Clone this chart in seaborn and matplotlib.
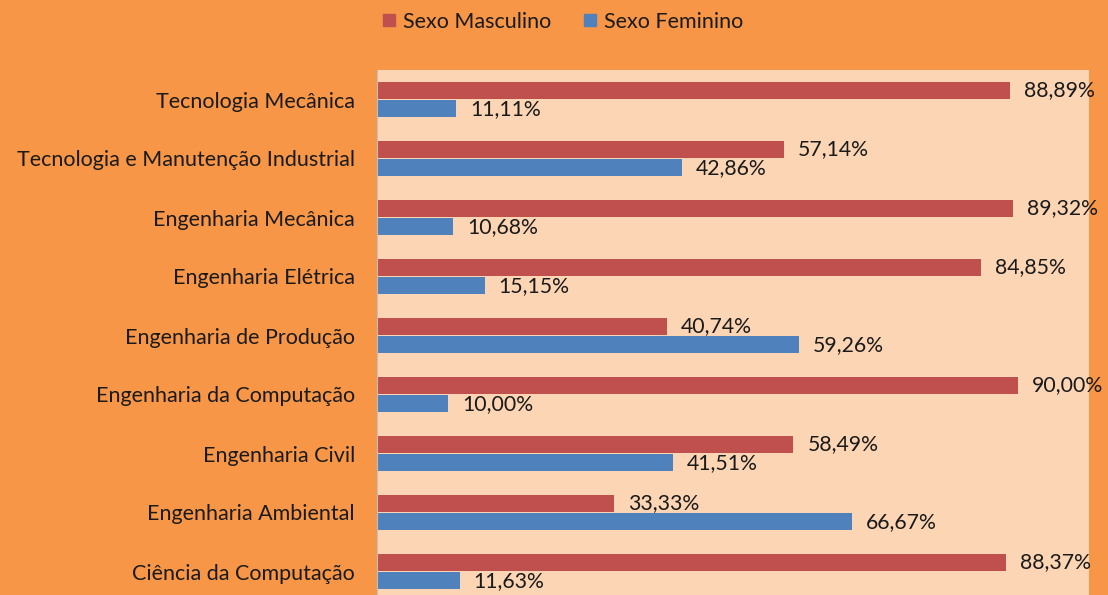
import matplotlib
matplotlib.use("Agg")
import matplotlib.pyplot as plt
import seaborn as sns
import pandas as pd
from matplotlib.lines import Line2D

categories = [
    "Tecnologia Mecânica",
    "Tecnologia e Manutenção Industrial",
    "Engenharia Mecânica",
    "Engenharia Elétrica",
    "Engenharia de Produção",
    "Engenharia da Computação",
    "Engenharia Civil",
    "Engenharia Ambiental",
    "Ciência da Computação",
]
masculino = [88.89, 57.14, 89.32, 84.85, 40.74, 90.00, 58.49, 33.33, 88.37]
feminino = [11.11, 42.86, 10.68, 15.15, 59.26, 10.00, 41.51, 66.67, 11.63]
series = ["Sexo Masculino", "Sexo Feminino"]
colors = ["#C0504D", "#4F81BD"]

rows = []
for c, m, f in zip(categories, masculino, feminino):
    rows.append({"curso": c, "sexo": series[0], "pct": m})
    rows.append({"curso": c, "sexo": series[1], "pct": f})
df = pd.DataFrame(rows)

sns.set_theme(style="white")
plt.rcParams["font.family"] = ["Lato", "DejaVu Sans"]

fig = plt.figure(figsize=(11.08, 5.95), dpi=100)
fig.patch.set_facecolor("#F79646")
ax = fig.add_axes([377 / 1108, -6 / 595, (1089 - 377) / 1108, 531 / 595])
ax.set_facecolor("#FCD5B4")

sns.barplot(data=df, y="curso", x="pct", hue="sexo", order=categories,
            hue_order=series, palette=colors, width=0.62, gap=0.06,
            orient="h", ax=ax, legend=False, saturation=1, edgecolor="none",
            linewidth=0)

for cont in ax.containers:
    ax.bar_label(cont, labels=[f"{v:.2f}".replace(".", ",") + "%" for v in cont.datavalues],
                 padding=10, fontsize=15.3, color="#1a1a1a")

ax.set_xlim(0, 100)
ax.set_xticks([])
ax.set_xlabel("")
ax.set_ylabel("")
ax.tick_params(axis="y", length=0, pad=16, labelsize=15.5, labelcolor="#1a1a1a")
for s in ["top", "right", "bottom"]:
    ax.spines[s].set_visible(False)
ax.spines["left"].set_color("#BFBFBF")
ax.spines["left"].set_linewidth(0.8)

handles = [Line2D([], [], marker="s", linestyle="", markersize=9, color=c) for c in colors]
fig.legend(handles, series, loc="center", bbox_to_anchor=(0.505, 0.963), ncol=2,
           frameon=False, fontsize=15.5, handletextpad=0.05, columnspacing=1.2,
           handlelength=1.2, labelcolor="#1a1a1a")

fig.savefig("out.png", dpi=100, facecolor=fig.get_facecolor())
